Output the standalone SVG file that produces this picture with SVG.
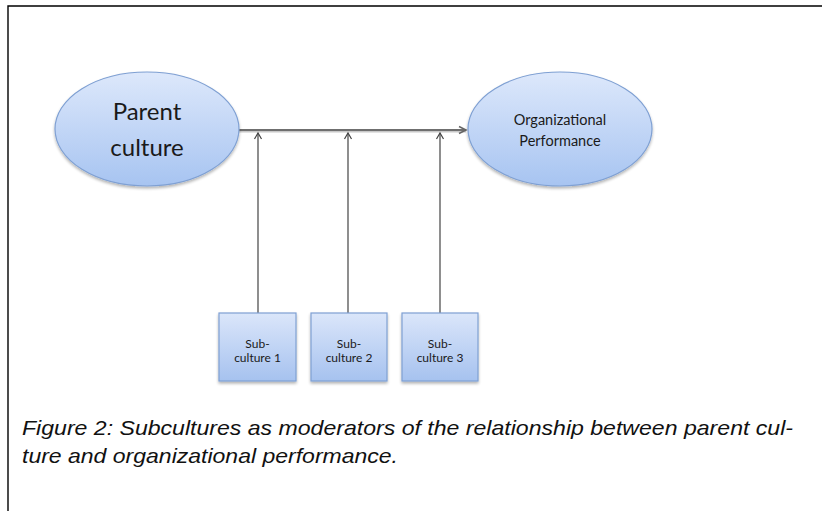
<svg xmlns="http://www.w3.org/2000/svg" width="822" height="511" viewBox="0 0 822 511">
<defs>
<linearGradient id="gEll" x1="0" y1="0" x2="0" y2="1">
<stop offset="0" stop-color="#dde8fb"/>
<stop offset="1" stop-color="#a7c4f1"/>
</linearGradient>
<linearGradient id="gBox" x1="0" y1="0" x2="0" y2="1">
<stop offset="0" stop-color="#dbe6fa"/>
<stop offset="1" stop-color="#a6c2ef"/>
</linearGradient>
<filter id="sh" x="-10%" y="-10%" width="130%" height="130%">
<feGaussianBlur in="SourceAlpha" stdDeviation="1.5"/>
<feOffset dx="0" dy="2" result="b"/>
<feComponentTransfer><feFuncA type="linear" slope="0.3"/></feComponentTransfer>
<feMerge><feMergeNode/><feMergeNode in="SourceGraphic"/></feMerge>
</filter>
<marker id="ah" markerWidth="10" markerHeight="10" refX="8" refY="5" orient="auto" markerUnits="userSpaceOnUse">
<path d="M1,1.5 L8,5 L1,8.5" fill="none" stroke="#666" stroke-width="1.6"/>
</marker>
<marker id="av" markerWidth="10" markerHeight="10" refX="8" refY="5" orient="auto" markerUnits="userSpaceOnUse">
<path d="M2,1.5 L8,5 L2,8.5" fill="none" stroke="#444" stroke-width="1.2"/>
</marker>
</defs>
<style>
.ell{fill:url(#gEll);stroke:#7fa0d3;stroke-width:1.2;filter:url(#sh)}
.box{fill:url(#gBox);stroke:#7fa0d3;stroke-width:1.2;filter:url(#sh)}
.lbl{font-family:"Lato","Liberation Sans",sans-serif;fill:#1a1a1a;text-anchor:middle}
.cap{font-family:"Liberation Sans",sans-serif;font-style:italic;font-size:21px;fill:#111}
</style>
<rect width="822" height="511" fill="#fff"/>
<path d="M8,511 V6 H822" fill="none" stroke="#000" stroke-width="1.4"/>
<g id="connectors">
<line x1="239" y1="130" x2="466" y2="130" stroke="#c8c8c8" stroke-width="2" transform="translate(0,1.5)"/>
<line x1="239" y1="130" x2="466" y2="130" stroke="#6f6f6f" stroke-width="2" marker-end="url(#ah)"/>
<line x1="258" y1="313" x2="258" y2="133" stroke="#444" stroke-width="1.2" marker-end="url(#av)"/>
<line x1="348" y1="313" x2="348" y2="133" stroke="#444" stroke-width="1.2" marker-end="url(#av)"/>
<line x1="440" y1="313" x2="440" y2="133" stroke="#444" stroke-width="1.2" marker-end="url(#av)"/>
</g>
<g id="parent">
<ellipse class="ell" cx="147" cy="129" rx="92" ry="57"/>
<text class="lbl" x="147" y="120" font-size="24">Parent</text>
<text class="lbl" x="147" y="156" font-size="24">culture</text>
</g>
<g id="performance">
<ellipse class="ell" cx="560" cy="129" rx="92" ry="57"/>
<text class="lbl" x="560" y="125" font-size="14.5">Organizational</text>
<text class="lbl" x="560" y="146" font-size="14.5">Performance</text>
</g>
<g id="sub1">
<rect class="box" x="219" y="313" width="77" height="68"/>
<text class="lbl" x="257.5" y="348" font-size="12">Sub-</text>
<text class="lbl" x="257.5" y="362" font-size="12">culture 1</text>
</g>
<g id="sub2">
<rect class="box" x="311" y="313" width="76" height="68"/>
<text class="lbl" x="349" y="348" font-size="12">Sub-</text>
<text class="lbl" x="349" y="362" font-size="12">culture 2</text>
</g>
<g id="sub3">
<rect class="box" x="402" y="313" width="76" height="68"/>
<text class="lbl" x="440" y="348" font-size="12">Sub-</text>
<text class="lbl" x="440" y="362" font-size="12">culture 3</text>
</g>
<g id="caption">
<text class="cap" x="22" y="435" textLength="771" lengthAdjust="spacingAndGlyphs">Figure 2: Subcultures as moderators of the relationship between parent cul-</text>
<text class="cap" x="22" y="463" textLength="376" lengthAdjust="spacingAndGlyphs">ture and organizational performance.</text>
</g>
</svg>
